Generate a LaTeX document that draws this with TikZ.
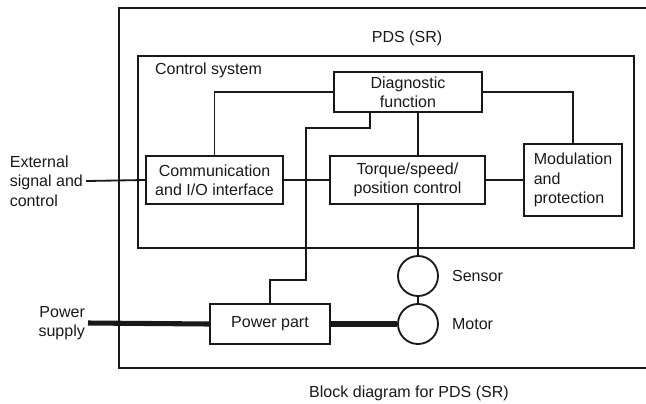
\documentclass[tikz,border=0pt]{standalone}
\usepackage{fontspec}
\setmainfont{Liberation Sans}
\usetikzlibrary{arrows.meta,positioning,calc}
\definecolor{inkclr}{RGB}{25,25,25}
\newcommand{\pdsfont}{\fontsize{11.4}{13.8}\selectfont}
\tikzset{
  blockbox/.style={draw=inkclr, line width=1.3pt, align=center, inner sep=2pt, font=\pdsfont, text=inkclr},
  unitcirc/.style={draw=inkclr, circle, line width=1.3pt, minimum size=1cm, inner sep=0pt},
  wireln/.style={draw=inkclr, line width=1.3pt},
  powerln/.style={draw=inkclr, line width=3.6pt},
  lbl/.style={font=\pdsfont, text=inkclr, inner sep=2pt},
}

\begin{document}
\begin{tikzpicture}[x=0.025cm, y=-0.025cm]
  \useasboundingbox (0,0) rectangle (646,403);
  % PDS (SR) frame, open to the right
  \draw[wireln] (646,8) -| (119,368) -- (646,368);
  \node[lbl] (pdstitle) at (407,38) {PDS (SR)};
  % control system frame
  \draw[wireln] (138,56) rectangle (634,248);
  \node[lbl, anchor=west] (ctrltitle) at (152,70) {Control system};
  % blocks
  \node[blockbox, minimum width=3.7cm, minimum height=1cm] (diag) at (408,92) {Diagnostic\\function};
  \node[blockbox, minimum width=3.425cm, minimum height=1.2cm] (comm) at (214.5,180) {Communication\\and I/O interface};
  \node[blockbox, minimum width=3.875cm, minimum height=1.2cm] (torque) at (407.5,180) {Torque/speed/\\position control};
  \node[blockbox, align=left, minimum width=2.45cm, minimum height=1.8cm] (modul) at (573,180) {Modulation\\and\\protection};
  \node[blockbox, minimum width=3cm, minimum height=1cm] (power) at (270,324) {Power part};
  \node[unitcirc] (sensor) at (418,276) {};
  \node[unitcirc] (motor) at (418,324) {};
  \node[lbl, anchor=west] (senslbl) at (449,276) {Sensor};
  \node[lbl, anchor=west] (motlbl) at (449,324) {Motor};
  % outside signals
  \node[lbl, align=left, anchor=east] (ext) at (86,181) {External\\signal and\\control};
  \node[lbl, align=right, anchor=east] (psup) at (88,323) {Power\\supply};
  % wiring
  \draw[wireln] (diag.west) -| (comm.north);
  \draw[wireln] (diag.east) -| (modul.north);
  \draw[wireln] (ext.east) -- (comm.west);
  \draw[wireln] (comm.east) -- (torque.west);
  \draw[wireln] (torque.east) -- (modul.west);
  \draw[wireln] (diag.south -| sensor.north) -- (torque.north -| sensor.north);
  \draw[wireln] (torque.south -| sensor.north) -- (sensor.north);
  \draw[wireln] (sensor.south) -- (motor.north);
  \draw[wireln] (diag.south west) ++(37,0) |- (306,128) -- (306,280) -| (power.north);
  % power path
  \draw[powerln] (psup.east) -- (power.west);
  \draw[powerln] (power.east) -- (motor.west);
  \node[lbl] (caption) at (409,393) {Block diagram for PDS (SR)};
\end{tikzpicture}
\end{document}
